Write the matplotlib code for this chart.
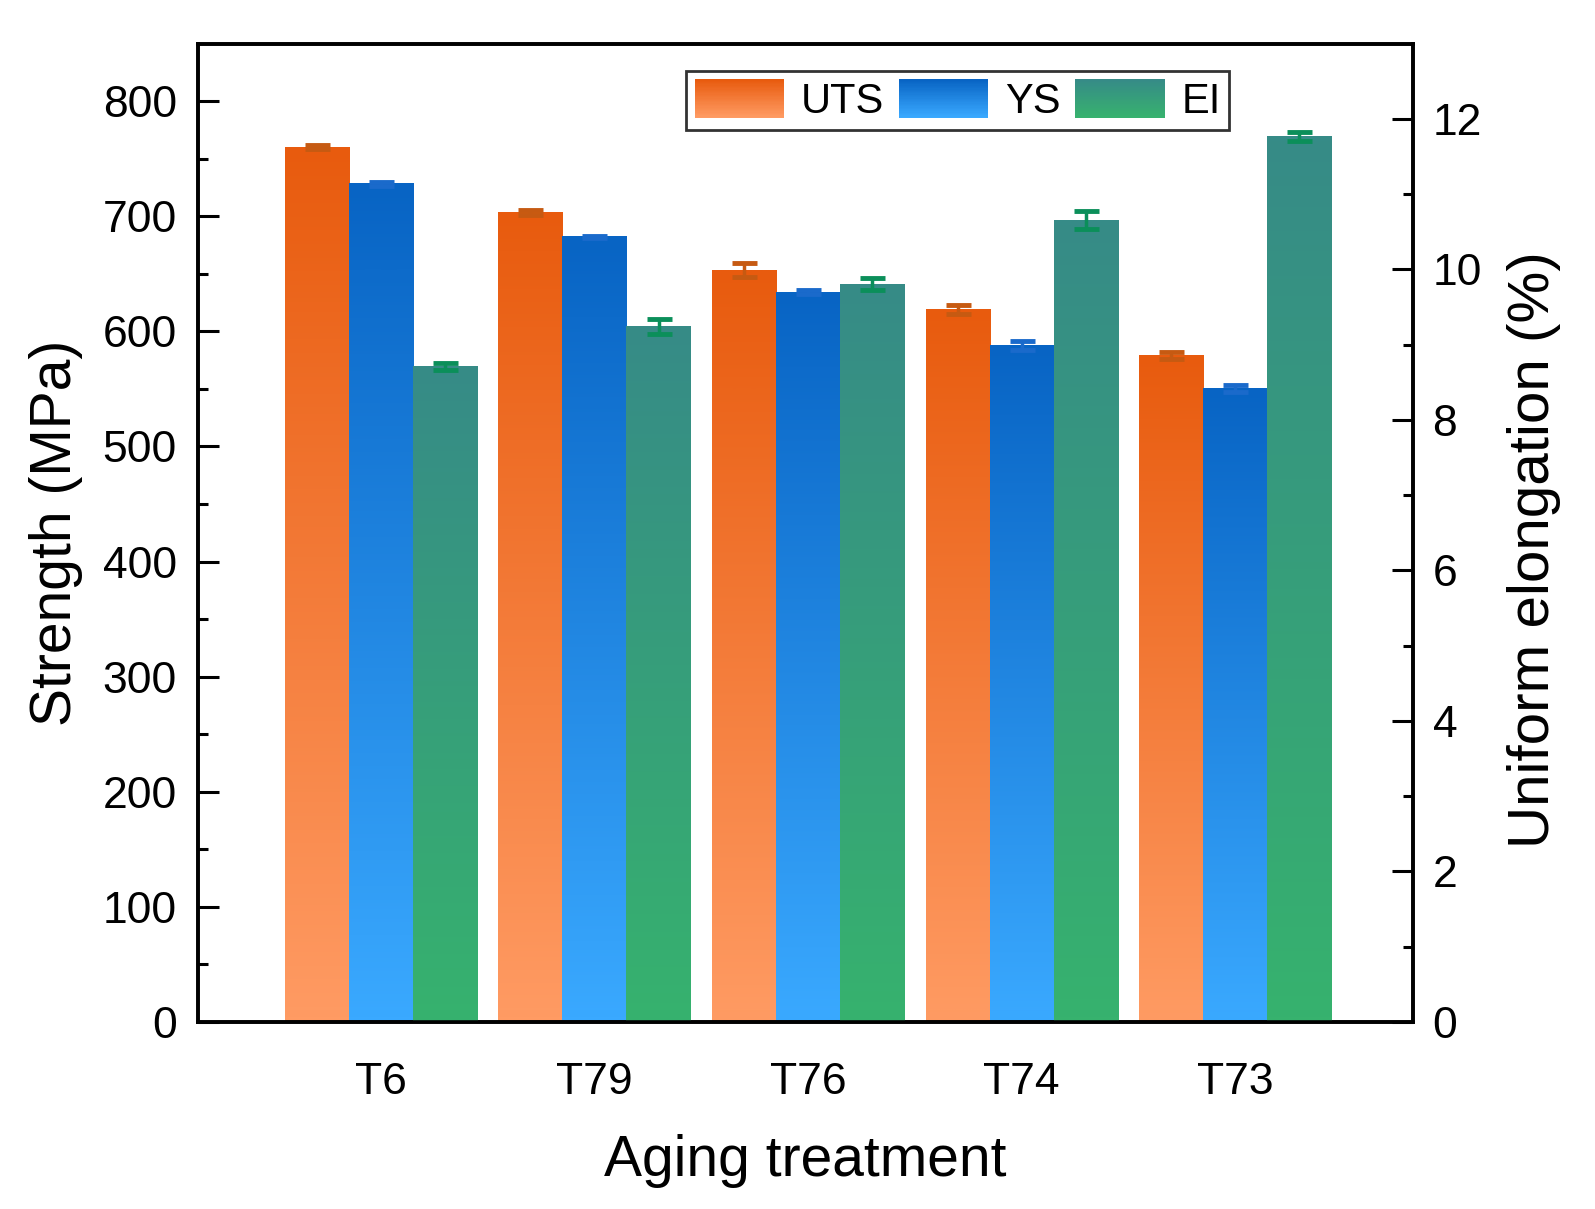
import numpy as np
import matplotlib
matplotlib.use("Agg")
import matplotlib.pyplot as plt
from matplotlib.colors import LinearSegmentedColormap, to_rgb
from matplotlib.legend_handler import HandlerBase
from matplotlib.patches import Rectangle, Patch

plt.rcParams['font.family'] = ['Liberation Sans', 'DejaVu Sans']

groups = ['T6', 'T79', 'T76', 'T74', 'T73']
uts = [760, 703, 653, 619, 579]
ys = [728, 682, 634, 588, 550]
el = [8.71, 9.24, 9.80, 10.65, 11.76]
uts_err = [2, 2, 6, 4, 3]
ys_err = [2, 1, 2, 4, 3]
el_err = [0.05, 0.10, 0.08, 0.12, 0.06]

series_names = ['UTS', 'YS', 'EI']
grad_top = ['#E85B0E', '#0864C4', '#368B87']
grad_bot = ['#FF9B63', '#3AA9FF', '#37B26E']
err_cols = ['#C65A12', '#1A6ACB', '#0B8F5A']

fig = plt.figure(figsize=(15.95, 12.09), dpi=100)
ax = fig.add_axes([0.124, 0.1547, 0.762, 0.8093])
ax2 = ax.twinx()

x = np.arange(len(groups))
w = 0.3


def grad_fill(a, rects, ctop, cbot):
    cmap = LinearSegmentedColormap.from_list('g', [ctop, cbot])
    grad = np.linspace(0, 1, 256).reshape(-1, 1)
    for r in rects:
        x0, y0 = r.get_x(), r.get_y()
        ww, hh = r.get_width(), r.get_height()
        a.imshow(grad, extent=[x0, x0 + ww, y0, y0 + hh], cmap=cmap,
                 aspect='auto', origin='upper', zorder=2, interpolation='bilinear')
        r.set_visible(False)


b1 = ax.bar(x - w, uts, w, color=grad_top[0])
b2 = ax.bar(x, ys, w, color=grad_top[1])
b3 = ax2.bar(x + w, el, w, color=grad_top[2])
grad_fill(ax, b1, grad_top[0], grad_bot[0])
grad_fill(ax, b2, grad_top[1], grad_bot[1])
grad_fill(ax2, b3, grad_top[2], grad_bot[2])

ekw = dict(fmt='none', capsize=9, elinewidth=2.5, capthick=3.5, zorder=4)
ax.errorbar(x - w, uts, yerr=uts_err, ecolor=err_cols[0], **ekw)
ax.errorbar(x, ys, yerr=ys_err, ecolor=err_cols[1], **ekw)
ax2.errorbar(x + w, el, yerr=el_err, ecolor=err_cols[2], **ekw)

ax.set_xlim(-0.857, 4.833)
ax.set_ylim(0, 850)
ax2.set_ylim(0, 13)

ax.set_yticks(np.arange(0, 801, 100))
ax.set_yticks(np.arange(50, 850, 100), minor=True)
ax2.set_yticks(np.arange(0, 13, 2))
ax2.set_yticks(np.arange(1, 13, 2), minor=True)
ax.set_xticks(x)
ax.set_xticklabels(groups)

for a in (ax, ax2):
    for s in a.spines.values():
        s.set_linewidth(2.6)
    a.tick_params(axis='y', which='major', direction='in', length=15, width=2.2, labelsize=32)
    a.tick_params(axis='y', which='minor', direction='in', length=7, width=2.2)
ax.tick_params(axis='y', pad=15)
ax2.tick_params(axis='y', pad=14)
ax.tick_params(axis='x', which='both', length=0, labelsize=32, pad=29)

ax.set_xlabel('Aging treatment', fontsize=41, labelpad=22)
ax.set_ylabel('Strength (MPa)', fontsize=41, labelpad=14)
ax2.set_ylabel('Uniform elongation (%)', fontsize=42, labelpad=18)
ax2.yaxis.label.set_y(0.483)


class GradHandler(HandlerBase):
    def __init__(self, ctop, cbot, n=30):
        super().__init__()
        self.ctop = np.array(to_rgb(ctop))
        self.cbot = np.array(to_rgb(cbot))
        self.n = n

    def create_artists(self, legend, orig_handle, xdescent, ydescent,
                       width, height, fontsize, trans):
        arts = []
        for i in range(self.n):
            t = i / (self.n - 1)
            c = self.cbot * (1 - t) + self.ctop * t
            r = Rectangle((-xdescent, -ydescent + height * i / self.n), width,
                          height / self.n + 0.3, facecolor=c, edgecolor='none',
                          transform=trans)
            arts.append(r)
        return arts


handles = [Patch(label=n) for n in series_names]
hmap = {h: GradHandler(grad_top[i], grad_bot[i]) for i, h in enumerate(handles)}
leg = ax2.legend(handles=handles, loc='upper left', bbox_to_anchor=(0.402, 0.972),
                 ncol=3, fontsize=30, frameon=True, fancybox=False,
                 handlelength=2.15, handleheight=1.05, handletextpad=0.4,
                 columnspacing=0.35, borderpad=0.2, borderaxespad=0,
                 handler_map=hmap)
leg.get_frame().set_edgecolor('black')
leg.get_frame().set_linewidth(2)
leg.set_zorder(10)

fig.savefig('out.png', dpi=100)
